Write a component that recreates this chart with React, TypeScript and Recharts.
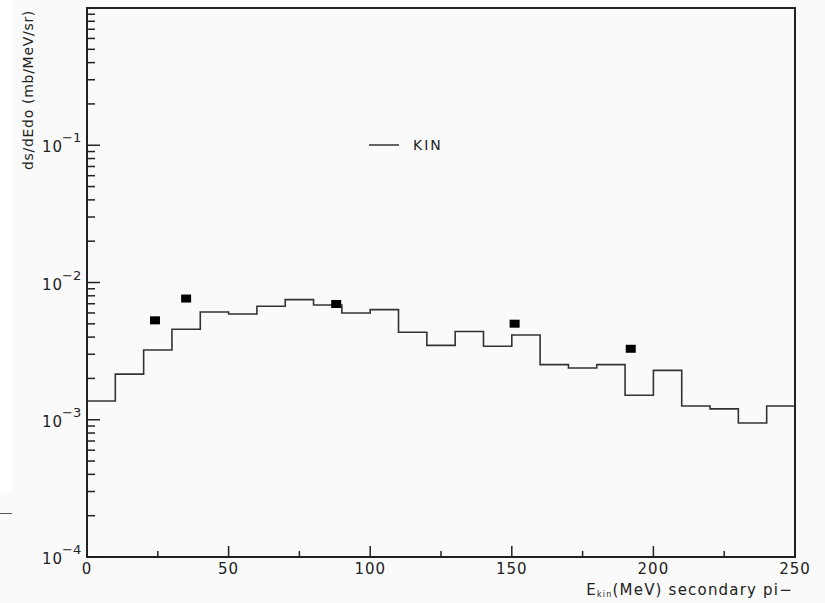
import {
  ComposedChart,
  Legend,
  Line,
  ReferenceArea,
  Scatter,
  XAxis,
  YAxis,
} from "recharts";

// histogram bins (lower edges, 10 MeV wide) and KIN values
const binEdges = [
  0, 10, 20, 30, 40, 50, 60, 70, 80, 90, 100, 110, 120, 130, 140, 150, 160,
  170, 180, 190, 200, 210, 220, 230, 240,
];
const binWidth = 10;
const kinValues = [
  1.37e-3, 2.15e-3, 3.22e-3, 4.56e-3, 6.09e-3, 5.89e-3, 6.71e-3, 7.5e-3,
  6.86e-3, 6.0e-3, 6.34e-3, 4.34e-3, 3.48e-3, 4.4e-3, 3.43e-3, 4.14e-3,
  2.52e-3, 2.38e-3, 2.52e-3, 1.51e-3, 2.29e-3, 1.26e-3, 1.2e-3, 9.46e-4,
  1.26e-3,
];

// experimental points
const expEnergy = [24, 35, 88, 151, 192];
const expValues = [5.3e-3, 7.64e-3, 6.97e-3, 5.01e-3, 3.29e-3];

// axes
const xMajorTicks = [0, 50, 100, 150, 200, 250];
const xMinorTicks = [25, 75, 125, 175, 225];
const yDecades = [1e-4, 1e-3, 1e-2, 1e-1];
const yExponents = ["\u22124", "\u22123", "\u22122", "\u22121"];
const yMantissas = [1, 2, 3, 4, 5, 6, 7, 8, 9];

const FONT = "'DejaVu Sans', sans-serif";
const INK = "#222";

const histData = [
  ...binEdges.map((x, i) => ({ x, y: kinValues[i] })),
  {
    x: binEdges[binEdges.length - 1] + binWidth,
    y: kinValues[kinValues.length - 1],
  },
];
const expData = expEnergy.map((x, i) => ({ x, y: expValues[i] }));

const xTicks = [...xMajorTicks, ...xMinorTicks].sort((a, b) => a - b);
const yTicks = yDecades.flatMap((d) => yMantissas.map((m) => m * d));

function YTick({ x, y, payload }: any) {
  const v = payload.value;
  const idx = yDecades.findIndex((d) => Math.abs(d - v) / d < 1e-6);
  const major = idx >= 0;
  return (
    <g>
      <line
        x1={x}
        x2={x + (major ? 13 : 8)}
        y1={y}
        y2={y}
        stroke={INK}
        strokeWidth={1.5}
      />
      {major && (
        <>
          <text
            x={x - 24}
            y={y + 7}
            textAnchor="end"
            fontFamily={FONT}
            fontSize={15}
            letterSpacing={1}
            fill={INK}
          >
            10
          </text>
          <text
            x={x - 25}
            y={y - 3}
            fontFamily={FONT}
            fontSize={13}
            fill={INK}
          >
            {yExponents[idx]}
          </text>
        </>
      )}
    </g>
  );
}

function XTick({ x, y, payload }: any) {
  const major = xMajorTicks.includes(payload.value);
  return (
    <g>
      <line
        x1={x}
        x2={x}
        y1={y}
        y2={y - (major ? 11 : 6)}
        stroke={INK}
        strokeWidth={1.5}
      />
      {major && (
        <text
          x={x}
          y={y + 17}
          textAnchor="middle"
          fontFamily={FONT}
          fontSize={15}
          letterSpacing={1}
          fill={INK}
        >
          {payload.value}
        </text>
      )}
    </g>
  );
}

function KinLegend() {
  return (
    <svg width={90} height={20}>
      <line x1={4} x2={34} y1={10} y2={10} stroke="#333" strokeWidth={1.5} />
      <text
        x={48}
        y={15}
        fontFamily={FONT}
        fontSize={14}
        letterSpacing={2}
        fill={INK}
      >
        KIN
      </text>
    </svg>
  );
}

const squareShape = (props: any) => (
  <rect x={props.cx - 5} y={props.cy - 4} width={10} height={8} fill="#000" />
);

export default function App() {
  return (
    <div
      style={{
        position: "absolute",
        left: 0,
        top: 0,
        width: 825,
        height: 603,
        background: "#fafafa",
      }}
    >
      <div
        style={{
          position: "absolute",
          left: 0,
          top: 0,
          width: 12,
          height: 493,
          background: "#fff",
        }}
      />
      <div
        style={{
          position: "absolute",
          left: 0,
          top: 513,
          width: 12,
          height: 1,
          background: "#555",
        }}
      />
      <ComposedChart
        width={825}
        height={603}
        margin={{ top: 8, right: 30, bottom: 0, left: 0 }}
        style={{ position: "absolute", left: 0, top: 0 }}
      >
        <XAxis
          dataKey="x"
          type="number"
          domain={[0, 250]}
          allowDataOverflow
          ticks={xTicks}
          interval={0}
          height={46}
          tickSize={0}
          tickMargin={0}
          tickLine={false}
          tick={<XTick />}
          axisLine={{ stroke: INK, strokeWidth: 2 }}
          label={() => (
            <text
              x={793}
              y={595}
              textAnchor="end"
              fontFamily={FONT}
              fontSize={15}
              letterSpacing={1.2}
              fill={INK}
            >
              <tspan>E</tspan>
              <tspan fontSize={8} dy={2}>
                kin
              </tspan>
              <tspan dy={-2}>(MeV) secondary pi{"\u2212"}</tspan>
            </text>
          )}
        />
        <YAxis
          dataKey="y"
          type="number"
          scale="log"
          domain={[1e-4, 1]}
          allowDataOverflow
          ticks={yTicks}
          interval={0}
          width={87}
          tickSize={0}
          tickMargin={0}
          tickLine={false}
          tick={<YTick />}
          axisLine={{ stroke: INK, strokeWidth: 2 }}
          label={() => (
            <text
              x={33}
              y={90}
              transform="rotate(-90 33 90)"
              textAnchor="middle"
              fontFamily={FONT}
              fontSize={14}
              letterSpacing={0.7}
              fill={INK}
            >
              ds/dEdo (mb/MeV/sr)
            </text>
          )}
        />
        <ReferenceArea
          x1={0}
          x2={250}
          y1={1e-4}
          y2={1}
          fill="none"
          stroke={INK}
          strokeWidth={2}
          strokeOpacity={1}
        />
        <Legend
          layout="horizontal"
          verticalAlign="middle"
          align="center"
          content={<KinLegend />}
          wrapperStyle={{ left: 365, top: 135, width: 90, height: 20 }}
        />
        <Line
          data={histData}
          dataKey="y"
          type="stepAfter"
          stroke="#333"
          strokeWidth={1.6}
          dot={false}
          activeDot={false}
          isAnimationActive={false}
        />
        <Scatter
          data={expData}
          dataKey="y"
          shape={squareShape}
          isAnimationActive={false}
        />
      </ComposedChart>
    </div>
  );
}
